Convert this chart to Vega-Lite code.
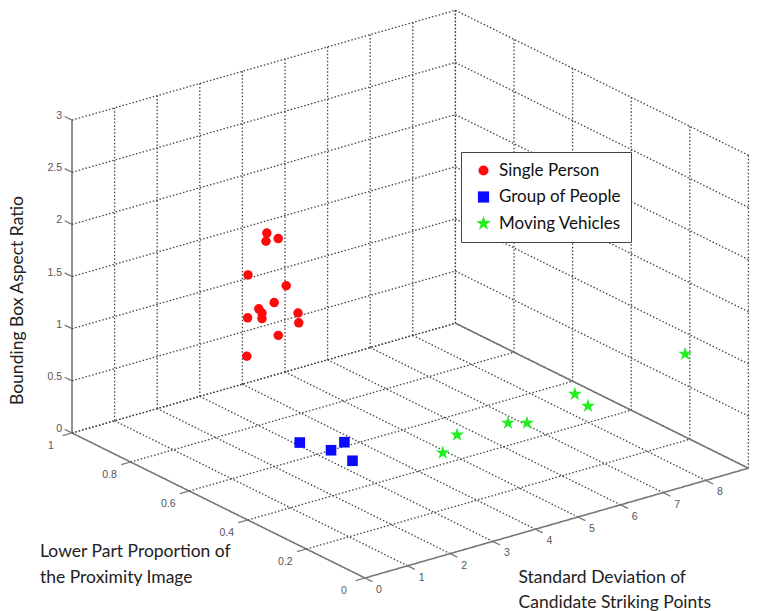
{
  "$schema": "https://vega.github.io/schema/vega-lite/v6.json",
  "width": 759,
  "height": 611,
  "padding": 0,
  "autosize": {"type": "none"},
  "background": "white",
  "config": {
    "view": {"stroke": null}
  },
  "title": {
    "text": ["Lower Part Proportion of", "the Proximity Image"],
    "orient": "bottom",
    "anchor": "start",
    "frame": "group",
    "align": "left",
    "baseline": "top",
    "offset": 0,
    "dx": 40,
    "dy": -68,
    "font": "Lato",
    "fontSize": 17.5,
    "fontWeight": "normal",
    "color": "#222",
    "lineHeight": 25.5
  },
  "datasets": {
    "ticks": [
      {"axis": "x", "v": 0}, {"axis": "x", "v": 1}, {"axis": "x", "v": 2}, {"axis": "x", "v": 3}, {"axis": "x", "v": 4},
      {"axis": "x", "v": 5}, {"axis": "x", "v": 6}, {"axis": "x", "v": 7}, {"axis": "x", "v": 8}, {"axis": "x", "v": 9},
      {"axis": "y", "v": 0}, {"axis": "y", "v": 0.2}, {"axis": "y", "v": 0.4}, {"axis": "y", "v": 0.6}, {"axis": "y", "v": 0.8}, {"axis": "y", "v": 1},
      {"axis": "z", "v": 0}, {"axis": "z", "v": 0.5}, {"axis": "z", "v": 1}, {"axis": "z", "v": 1.5}, {"axis": "z", "v": 2}, {"axis": "z", "v": 2.5}, {"axis": "z", "v": 3}
    ],
    "points": [
      {"class": "Single Person", "sd": 2.51, "lower": 0.70, "ratio": 2.04},
      {"class": "Single Person", "sd": 1.94, "lower": 0.62, "ratio": 2.14},
      {"class": "Single Person", "sd": 2.64, "lower": 0.68, "ratio": 2.00},
      {"class": "Single Person", "sd": 1.38, "lower": 0.60, "ratio": 1.91},
      {"class": "Single Person", "sd": 2.69, "lower": 0.66, "ratio": 1.57},
      {"class": "Single Person", "sd": 2.82, "lower": 0.72, "ratio": 1.31},
      {"class": "Single Person", "sd": 1.84, "lower": 0.63, "ratio": 1.49},
      {"class": "Single Person", "sd": 1.57, "lower": 0.58, "ratio": 1.55},
      {"class": "Single Person", "sd": 2.19, "lower": 0.67, "ratio": 1.30},
      {"class": "Single Person", "sd": 2.06, "lower": 0.70, "ratio": 1.28},
      {"class": "Single Person", "sd": 2.83, "lower": 0.64, "ratio": 1.32},
      {"class": "Single Person", "sd": 2.64, "lower": 0.61, "ratio": 1.29},
      {"class": "Single Person", "sd": 2.71, "lower": 0.69, "ratio": 1.05},
      {"class": "Single Person", "sd": 1.49, "lower": 0.62, "ratio": 1.09},
      {"class": "Group of People", "sd": 1.22, "lower": 0.40, "ratio": 0.60},
      {"class": "Group of People", "sd": 1.61, "lower": 0.35, "ratio": 0.55},
      {"class": "Group of People", "sd": 1.58, "lower": 0.30, "ratio": 0.70},
      {"class": "Group of People", "sd": 1.77, "lower": 0.30, "ratio": 0.50},
      {"class": "Moving Vehicles", "sd": 3.82, "lower": 0.29, "ratio": 0.35},
      {"class": "Moving Vehicles", "sd": 4.26, "lower": 0.305, "ratio": 0.45},
      {"class": "Moving Vehicles", "sd": 5.53, "lower": 0.316, "ratio": 0.40},
      {"class": "Moving Vehicles", "sd": 5.97, "lower": 0.315, "ratio": 0.35},
      {"class": "Moving Vehicles", "sd": 7.08, "lower": 0.313, "ratio": 0.50},
      {"class": "Moving Vehicles", "sd": 7.23, "lower": 0.29, "ratio": 0.40},
      {"class": "Moving Vehicles", "sd": 8.67, "lower": 0.168, "ratio": 0.90}
    ]
  },
  "layer": [
    {
      "data": {"name": "ticks"},
      "transform": [
        {"calculate": "datum.axis == 'x' ? datum.v : 0", "as": "sX"},
        {"calculate": "datum.axis == 'y' ? datum.v : (datum.axis == 'x' ? 0 : 1)", "as": "sY"},
        {"calculate": "datum.axis == 'z' ? datum.v : 0", "as": "sZ"},
        {"calculate": "datum.axis == 'x' ? datum.v : 9", "as": "mX"},
        {"calculate": "datum.axis == 'y' ? datum.v : 1", "as": "mY"},
        {"calculate": "datum.sZ", "as": "mZ"},
        {"calculate": "datum.mX", "as": "eX"},
        {"calculate": "datum.axis == 'y' ? datum.v : (datum.axis == 'x' ? 1 : 0)", "as": "eY"},
        {"calculate": "datum.axis == 'z' ? datum.v : 3", "as": "eZ"},
        {"calculate": "datum.sX + (datum.axis == 'y' ? -0.22 : 0)", "as": "tX"},
        {"calculate": "datum.sY + (datum.axis == 'x' ? -0.025 : (datum.axis == 'z' ? 0.025 : 0))", "as": "tY"},
        {"calculate": "datum.sZ", "as": "tZ"},
        {"calculate": "365 + 42.6 * datum.sX - 293 * datum.sY", "as": "sPx"},
        {"calculate": "578 - 12.2 * datum.sX - 145 * datum.sY - 104.3 * datum.sZ", "as": "sPy"},
        {"calculate": "365 + 42.6 * datum.mX - 293 * datum.mY", "as": "mPx"},
        {"calculate": "578 - 12.2 * datum.mX - 145 * datum.mY - 104.3 * datum.mZ", "as": "mPy"},
        {"calculate": "365 + 42.6 * datum.eX - 293 * datum.eY", "as": "ePx"},
        {"calculate": "578 - 12.2 * datum.eX - 145 * datum.eY - 104.3 * datum.eZ", "as": "ePy"},
        {"calculate": "365 + 42.6 * datum.tX - 293 * datum.tY", "as": "tPx"},
        {"calculate": "578 - 12.2 * datum.tX - 145 * datum.tY - 104.3 * datum.tZ", "as": "tPy"}
      ],
      "layer": [
        {
          "mark": {"type": "rule"},
          "encoding": {
            "x": {
              "field": "mPx", "type": "quantitative",
              "scale": {"domain": [0, 759], "nice": false, "zero": false},
              "axis": {
                "orient": "bottom", "domain": false, "ticks": false, "labels": false, "grid": false,
                "title": ["Standard Deviation of", "Candidate Striking Points"],
                "titleX": 518, "titleY": -43, "titleAlign": "left", "titleBaseline": "top",
                "titleFont": "Lato", "titleFontSize": 17.5, "titleFontWeight": "normal", "titleColor": "#222", "titleLineHeight": 25.5
              }
            },
            "y": {
              "field": "mPy", "type": "quantitative",
              "scale": {"domain": [0, 611], "reverse": true, "nice": false, "zero": false},
              "axis": {
                "orient": "left", "domain": false, "ticks": false, "labels": false, "grid": false,
                "title": "Bounding Box Aspect Ratio",
                "titleX": 17, "titleY": 300, "titleAngle": -90, "titleAlign": "center", "titleBaseline": "middle",
                "titleFont": "Lato", "titleFontSize": 17.5, "titleFontWeight": "normal", "titleColor": "#222"
              }
            },
            "x2": {"field": "ePx"},
            "y2": {"field": "ePy"},
            "strokeDash": {"condition": {"test": "datum.axis == 'x' && datum.v == 0", "value": [1, 0]}, "value": [1.5, 2]},
            "color": {"condition": {"test": "datum.axis == 'x' && datum.v == 0", "value": "#777"}, "value": "#444"},
            "strokeWidth": {"condition": {"test": "datum.axis == 'x' && datum.v == 0", "value": 1.6}, "value": 1.3}
          }
        },
        {
          "mark": {"type": "rule"},
          "encoding": {
            "x": {"field": "sPx", "type": "quantitative", "scale": {"domain": [0, 759], "nice": false, "zero": false}},
            "y": {"field": "sPy", "type": "quantitative", "scale": {"domain": [0, 611], "reverse": true, "nice": false, "zero": false}},
            "x2": {"field": "mPx"},
            "y2": {"field": "mPy"},
            "strokeDash": {"condition": {"test": "(datum.axis == 'x' && (datum.v == 0 || datum.v == 9)) || (datum.axis == 'y' && datum.v == 0)", "value": [1, 0]}, "value": [1.5, 2]},
            "color": {"condition": {"test": "(datum.axis == 'x' && (datum.v == 0 || datum.v == 9)) || (datum.axis == 'y' && datum.v == 0)", "value": "#777"}, "value": "#444"},
            "strokeWidth": {"condition": {"test": "(datum.axis == 'x' && (datum.v == 0 || datum.v == 9)) || (datum.axis == 'y' && datum.v == 0)", "value": 1.6}, "value": 1.3}
          }
        },
        {
          "transform": [{"filter": "!(datum.axis == 'x' && datum.v == 9)"}],
          "mark": {"type": "rule", "color": "#777", "strokeWidth": 1.3},
          "encoding": {
            "x": {"field": "sPx", "type": "quantitative", "scale": {"domain": [0, 759], "nice": false, "zero": false}},
            "y": {"field": "sPy", "type": "quantitative", "scale": {"domain": [0, 611], "reverse": true, "nice": false, "zero": false}},
            "x2": {"field": "tPx"},
            "y2": {"field": "tPy"}
          }
        },
        {
          "transform": [{"filter": "datum.axis == 'x' && datum.v < 9"}],
          "mark": {"type": "text", "dx": 14, "dy": 12, "align": "center", "baseline": "middle", "font": "Liberation Sans", "fontSize": 10.5, "color": "#555"},
          "encoding": {
            "x": {"field": "sPx", "type": "quantitative", "scale": {"domain": [0, 759], "nice": false, "zero": false}},
            "y": {"field": "sPy", "type": "quantitative", "scale": {"domain": [0, 611], "reverse": true, "nice": false, "zero": false}},
            "text": {"field": "v", "type": "nominal"}
          }
        },
        {
          "transform": [{"filter": "datum.axis == 'y'"}],
          "mark": {"type": "text", "dx": -21, "dy": 13, "align": "center", "baseline": "middle", "font": "Liberation Sans", "fontSize": 10.5, "color": "#555"},
          "encoding": {
            "x": {"field": "sPx", "type": "quantitative", "scale": {"domain": [0, 759], "nice": false, "zero": false}},
            "y": {"field": "sPy", "type": "quantitative", "scale": {"domain": [0, 611], "reverse": true, "nice": false, "zero": false}},
            "text": {"field": "v", "type": "nominal"}
          }
        },
        {
          "transform": [{"filter": "datum.axis == 'z'"}],
          "mark": {"type": "text", "dx": -10, "dy": -4, "align": "right", "baseline": "middle", "font": "Liberation Sans", "fontSize": 10.5, "color": "#555"},
          "encoding": {
            "x": {"field": "sPx", "type": "quantitative", "scale": {"domain": [0, 759], "nice": false, "zero": false}},
            "y": {"field": "sPy", "type": "quantitative", "scale": {"domain": [0, 611], "reverse": true, "nice": false, "zero": false}},
            "text": {"field": "v", "type": "nominal"}
          }
        }
      ]
    },
    {
      "data": {"name": "points"},
      "transform": [
        {"calculate": "365 + 42.6 * datum.sd - 293 * datum.lower", "as": "px"},
        {"calculate": "578 - 12.2 * datum.sd - 145 * datum.lower - 104.3 * datum.ratio", "as": "py"}
      ],
      "mark": {"type": "point", "filled": true, "opacity": 1, "size": 90},
      "encoding": {
        "x": {"field": "px", "type": "quantitative", "scale": {"domain": [0, 759], "nice": false, "zero": false}},
        "y": {"field": "py", "type": "quantitative", "scale": {"domain": [0, 611], "reverse": true, "nice": false, "zero": false}},
        "color": {
          "field": "class", "type": "nominal",
          "scale": {"domain": ["Single Person", "Group of People", "Moving Vehicles"], "range": ["#ff0a0a", "#0a0aff", "#22ee22"]},
          "legend": {
            "title": null,
            "orient": "none",
            "legendX": 461,
            "legendY": 152,
            "padding": 10,
            "rowPadding": 8.5,
            "strokeColor": "#444",
            "fillColor": "white",
            "labelFont": "Lato",
            "labelFontSize": 17,
            "labelColor": "#111",
            "symbolSize": 100,
            "labelOffset": 7,
            "symbolOffset": 4,
            "symbolStrokeWidth": 0
          }
        },
        "shape": {
          "field": "class", "type": "nominal",
          "scale": {"domain": ["Single Person", "Group of People", "Moving Vehicles"], "range": ["circle", "M-1.12,-1.12H1.12V1.12H-1.12Z", "M0,-1.55L0.348,-0.479L1.474,-0.479L0.563,0.183L0.911,1.254L0,0.592L-0.911,1.254L-0.563,0.183L-1.474,-0.479L-0.348,-0.479Z"]},
          "legend": {
            "title": null,
            "orient": "none",
            "legendX": 461,
            "legendY": 152,
            "padding": 10,
            "rowPadding": 8.5,
            "strokeColor": "#444",
            "fillColor": "white",
            "labelFont": "Lato",
            "labelFontSize": 17,
            "labelColor": "#111",
            "symbolSize": 100,
            "labelOffset": 7,
            "symbolOffset": 4,
            "symbolStrokeWidth": 0
          }
        }
      }
    }
  ]
}
